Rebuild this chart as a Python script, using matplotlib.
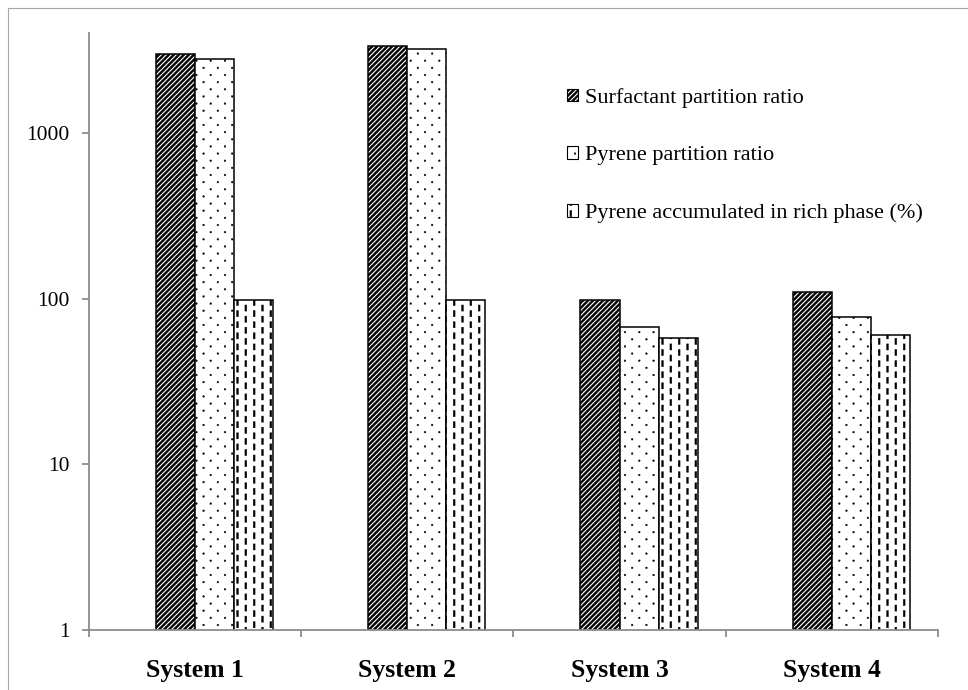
#!/usr/bin/env python3
"""Partition ratios of surfactant and pyrene for the four systems (log scale)."""
import warnings
import numpy as np
import matplotlib
matplotlib.use("Agg")
import matplotlib.pyplot as plt
import matplotlib.hatch as mhatch
from matplotlib.path import Path
from matplotlib.patches import Rectangle

warnings.filterwarnings("ignore")

systems = ["System 1", "System 2", "System 3", "System 4"]
surfactant_ratio = [3000, 3340, 98, 110]
pyrene_ratio = [2790, 3190, 67, 77]
pyrene_rich_pct = [98, 98, 57.5, 60]
series_labels = ["Surfactant partition ratio",
                 "Pyrene partition ratio",
                 "Pyrene accumulated in rich phase (%)"]
y_ticks = [1, 10, 100, 1000]


# Excel-like pattern fills, built as filled polygons in the unit hatch tile.
# 'S' = dense diagonal stripes, 'D' = staggered dots, 'V' = short vertical dashes
def _stripes(n=20, frac=0.55):
    polys = []
    w = frac / n
    for k in range(-n - 2, n + 2):
        c = k / n
        polys.append([(-0.2, -0.2 + c), (1.2, 1.2 + c),
                      (1.2, 1.2 + c + w), (-0.2, -0.2 + c + w)])
    return polys


def _dots(cols=7, rows=14, r=0.009):
    polys = []
    ang = np.linspace(0, 2 * np.pi, 9)[:-1]
    for j in range(rows):
        y = (j + 0.5) / rows
        off = 0.5 / cols if j % 2 else 0.0
        for i in range(cols):
            x = (i + 0.25) / cols + off
            polys.append(list(zip(x + r * np.cos(ang), y + r * np.sin(ang))))
    return polys


def _dashes(cols=12, rows=9, width=0.018, frac=0.55):
    polys = []
    h = frac / rows
    for i in range(cols):
        x = (i + 0.5) / cols
        off = 0.5 / rows if i % 2 else 0.0
        for j in range(rows + 1):
            y = j / rows + off - 0.5 / rows
            polys.append([(x - width / 2, y), (x + width / 2, y),
                          (x + width / 2, y + h), (x - width / 2, y + h)])
    return polys


class PatternFill(mhatch.HatchPatternBase):
    def __init__(self, hatch, density):
        self.polys = []
        if "S" in hatch:
            self.polys += _stripes()
        if "D" in hatch:
            self.polys += _dots()
        if "V" in hatch:
            self.polys += _dashes()
        self.num_vertices = sum(len(p) + 1 for p in self.polys)

    def set_vertices_and_codes(self, vertices, codes):
        pos = 0
        for p in self.polys:
            n = len(p)
            vertices[pos:pos + n] = p
            vertices[pos + n] = p[0]
            codes[pos] = Path.MOVETO
            codes[pos + 1:pos + n] = Path.LINETO
            codes[pos + n] = Path.CLOSEPOLY
            pos += n + 1


mhatch._hatch_types.append(PatternFill)

plt.rcParams["font.family"] = ["Liberation Serif", "DejaVu Serif"]
plt.rcParams["hatch.linewidth"] = 0.3
plt.rcParams["hatch.color"] = "black"

fig = plt.figure(figsize=(9.68, 6.9), dpi=100)
ax = fig.add_axes([0.0919, 0.087, 0.877, 0.865])
ax.set_yscale("log")

x = np.arange(len(systems))
w = 0.184
hatches = ["S", "D", "V"]
handles = []
for i, (vals, hatch) in enumerate(zip([surfactant_ratio, pyrene_ratio, pyrene_rich_pct], hatches)):
    ax.bar(x + (i - 0.5) * w, vals, w, facecolor="white", edgecolor="black",
           linewidth=1.1, hatch=hatch)
    handles.append(Rectangle((0, 0), 1, 1, facecolor="white", edgecolor="black",
                             linewidth=0.8, hatch=hatch))

ax.set_xlim(-0.5, len(systems) - 0.5)
ax.set_ylim(1, 4000)

axis_grey = "#8c8c8c"
for side in ["top", "right"]:
    ax.spines[side].set_visible(False)
for side in ["left", "bottom"]:
    ax.spines[side].set_color(axis_grey)
    ax.spines[side].set_linewidth(1.3)

ax.yaxis.set_minor_locator(matplotlib.ticker.NullLocator())
ax.set_yticks(y_ticks)
ax.set_yticklabels([str(t) for t in y_ticks])
ax.tick_params(axis="y", which="major", length=5, width=1.3, color=axis_grey,
               pad=9, labelsize=15.5)

# group boundaries get the tick marks, the names sit between them
ax.set_xticks(np.arange(len(systems) + 1) - 0.5)
ax.set_xticklabels([])
ax.set_xticks(x, minor=True)
ax.set_xticklabels(systems, minor=True, fontweight="bold", fontsize=18.5)
ax.tick_params(axis="x", which="major", length=5, width=1.3, color=axis_grey)
ax.tick_params(axis="x", which="minor", length=0, pad=21)

ax.legend(handles, series_labels, loc="upper left",
          bbox_to_anchor=(567 / 968, 1 - 88 / 690), bbox_transform=fig.transFigure,
          frameon=False, fontsize=16, handlelength=0.5, handleheight=0.5,
          handletextpad=0.3, labelspacing=1.72, borderpad=0, borderaxespad=0)

# thin frame around the whole chart area
fig.patches.append(Rectangle((8 / 968, -0.02), 1.0, 1 - 8 / 690 + 0.02,
                             transform=fig.transFigure, fill=False,
                             edgecolor="#a6a6a6", linewidth=0.8))

fig.savefig("out.png", dpi=100)
